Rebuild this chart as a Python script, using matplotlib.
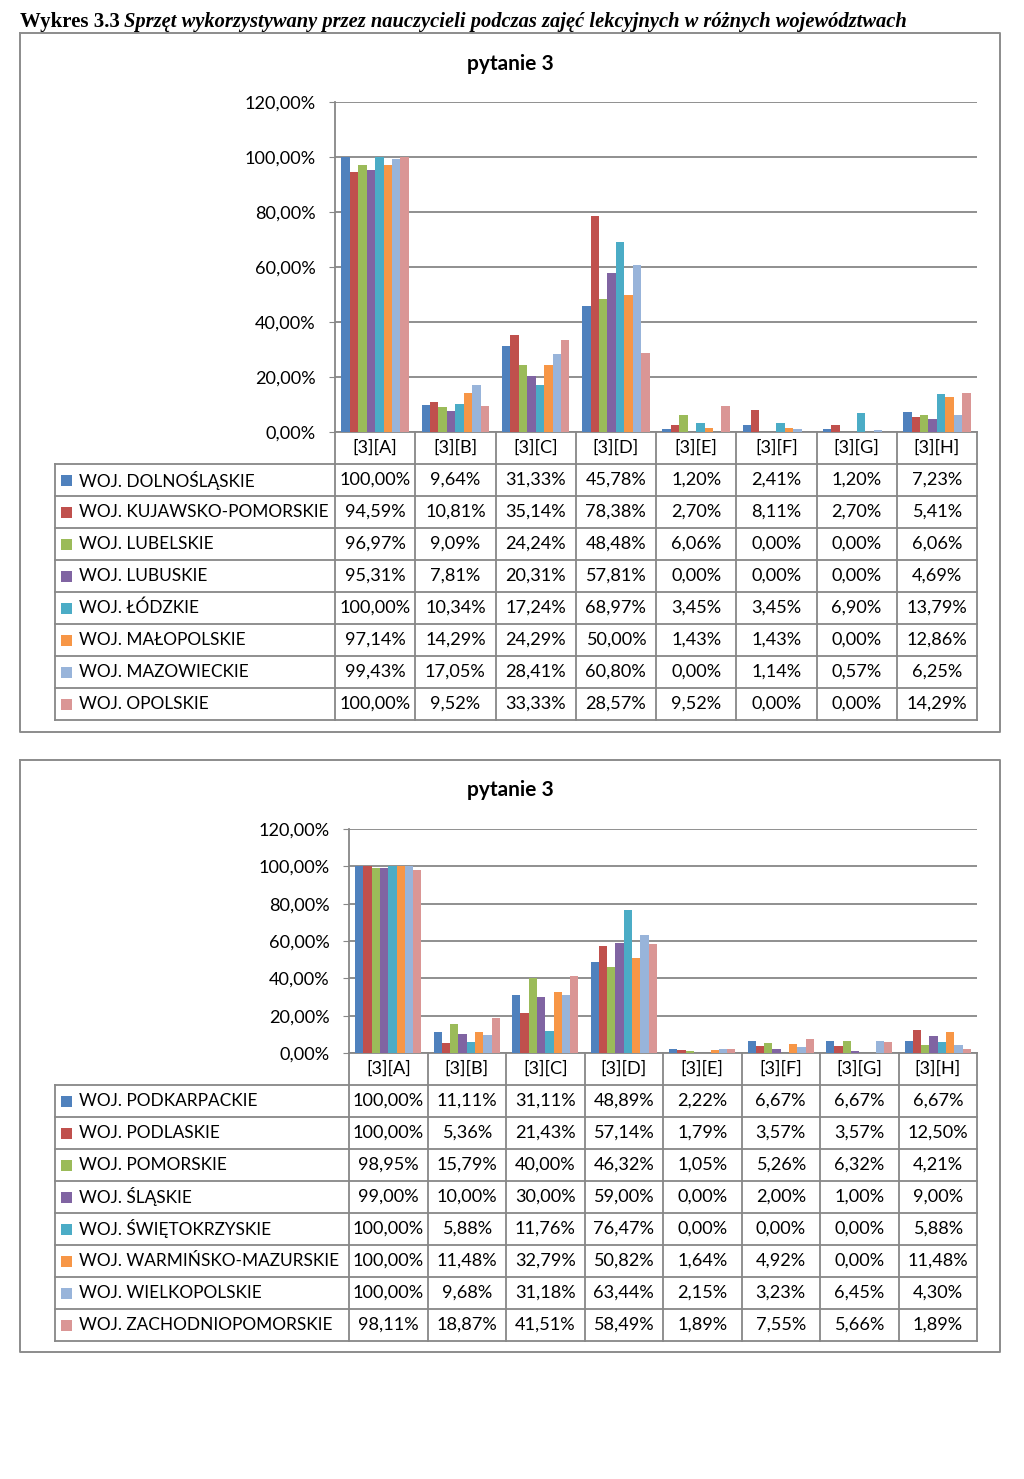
import matplotlib
matplotlib.use("Agg")
import matplotlib.pyplot as plt
import numpy as np

plt.rcParams['font.family'] = ['Lato', 'DejaVu Sans']

categories = ['[3][A]', '[3][B]', '[3][C]', '[3][D]', '[3][E]', '[3][F]', '[3][G]', '[3][H]']
colors = ['#4F81BD', '#C0504D', '#9BBB59', '#8064A2', '#4BACC6', '#F79646', '#98B4DA', '#DA9695']
y_ticks = [0, 20, 40, 60, 80, 100, 120]

top_regions = ['WOJ. DOLNOŚLĄSKIE', 'WOJ. KUJAWSKO-POMORSKIE', 'WOJ. LUBELSKIE', 'WOJ. LUBUSKIE',
               'WOJ. ŁÓDZKIE', 'WOJ. MAŁOPOLSKIE', 'WOJ. MAZOWIECKIE', 'WOJ. OPOLSKIE']
top_values = [
    [100.00, 9.64, 31.33, 45.78, 1.20, 2.41, 1.20, 7.23],
    [94.59, 10.81, 35.14, 78.38, 2.70, 8.11, 2.70, 5.41],
    [96.97, 9.09, 24.24, 48.48, 6.06, 0.00, 0.00, 6.06],
    [95.31, 7.81, 20.31, 57.81, 0.00, 0.00, 0.00, 4.69],
    [100.00, 10.34, 17.24, 68.97, 3.45, 3.45, 6.90, 13.79],
    [97.14, 14.29, 24.29, 50.00, 1.43, 1.43, 0.00, 12.86],
    [99.43, 17.05, 28.41, 60.80, 0.00, 1.14, 0.57, 6.25],
    [100.00, 9.52, 33.33, 28.57, 9.52, 0.00, 0.00, 14.29],
]

bottom_regions = ['WOJ. PODKARPACKIE', 'WOJ. PODLASKIE', 'WOJ. POMORSKIE', 'WOJ. ŚLĄSKIE',
                  'WOJ. ŚWIĘTOKRZYSKIE', 'WOJ. WARMIŃSKO-MAZURSKIE', 'WOJ. WIELKOPOLSKIE',
                  'WOJ. ZACHODNIOPOMORSKIE']
bottom_values = [
    [100.00, 11.11, 31.11, 48.89, 2.22, 6.67, 6.67, 6.67],
    [100.00, 5.36, 21.43, 57.14, 1.79, 3.57, 3.57, 12.50],
    [98.95, 15.79, 40.00, 46.32, 1.05, 5.26, 6.32, 4.21],
    [99.00, 10.00, 30.00, 59.00, 0.00, 2.00, 1.00, 9.00],
    [100.00, 5.88, 11.76, 76.47, 0.00, 0.00, 0.00, 5.88],
    [100.00, 11.48, 32.79, 50.82, 1.64, 4.92, 0.00, 11.48],
    [100.00, 9.68, 31.18, 63.44, 2.15, 3.23, 6.45, 4.30],
    [98.11, 18.87, 41.51, 58.49, 1.89, 7.55, 5.66, 1.89],
]

W, H = 1024, 1479
LINE = '#878787'
NUM_FS = 13.1
LAB_FS = 12.4


def pct(v):
    return f"{v:.2f}".replace('.', ',') + '%'


def draw_panel(fig, bg, box, plot, title_y, regions, values):
    """box/plot are (x0, y0, x1, y1) in pixels from the top left"""
    bx0, by0, bx1, by1 = box
    bg.plot([bx0, bx1, bx1, bx0, bx0], [by0, by0, by1, by1, by0], color='#8c8c8c', lw=1.4)
    px0, py0, px1, py1 = plot
    bg.text(510, title_y, 'pytanie 3', ha='center', va='center',
            fontsize=15, fontweight='bold')

    ax = fig.add_axes([px0 / W, 1 - py1 / H, (px1 - px0) / W, (py1 - py0) / H])
    n = len(regions)
    x = np.arange(len(categories))
    bw = 1 / (n + 1.5)
    for i, (name, row) in enumerate(zip(regions, values)):
        ax.bar(x - n * bw / 2 + (i + 0.5) * bw, row, width=bw, color=colors[i], lw=0)
    ax.set_xlim(-0.5, len(categories) - 0.5)
    ax.set_ylim(0, 120)
    ax.set_yticks(y_ticks)
    ax.set_yticklabels([pct(t) for t in y_ticks], fontsize=NUM_FS)
    ax.set_xticks([])
    ax.grid(axis='y', color=LINE, lw=1.3)
    ax.set_axisbelow(True)
    for s in ['top', 'right', 'bottom']:
        ax.spines[s].set_visible(False)
    ax.spines['left'].set_color(LINE)
    ax.spines['left'].set_linewidth(1.3)
    ax.tick_params(axis='y', length=4, color=LINE, pad=10)
    ax.set_facecolor('none')

    # table under the plot
    rh = 32
    lx = 55
    cw = (px1 - px0) / len(categories)
    ty1 = py1 + rh * (n + 1)
    bg.plot([px0, px1], [py1, py1], color=LINE, lw=1.3)
    for k in range(len(categories) + 1):
        bg.plot([px0 + k * cw] * 2, [py1, ty1], color=LINE, lw=1.3)
    bg.plot([lx, lx], [py1 + rh, ty1], color=LINE, lw=1.3)
    for r in range(n + 1):
        yy = py1 + rh * (r + 1)
        bg.plot([lx, px1], [yy, yy], color=LINE, lw=1.3)
    for k, c in enumerate(categories):
        bg.text(px0 + (k + 0.5) * cw, py1 + rh / 2, c, ha='center', va='center', fontsize=NUM_FS)
    for r, (name, row) in enumerate(zip(regions, values)):
        yc = py1 + rh * (r + 1.5)
        bg.add_patch(plt.Rectangle((61, yc - 5.5), 11, 11, color=colors[r], lw=0))
        bg.text(79, yc, name, ha='left', va='center', fontsize=LAB_FS)
        for k, v in enumerate(row):
            bg.text(px0 + (k + 0.5) * cw, yc, pct(v), ha='center', va='center', fontsize=NUM_FS)


fig = plt.figure(figsize=(W / 100, H / 100), dpi=100)
bg = fig.add_axes([0, 0, 1, 1])
bg.set_xlim(0, W)
bg.set_ylim(H, 0)
bg.axis('off')

bg.text(20, 22, 'Wykres 3.3', family='Liberation Serif', fontweight='bold', fontsize=15,
        ha='left', va='center')
bg.text(124, 22, 'Sprzęt wykorzystywany przez nauczycieli podczas zajęć lekcyjnych w różnych województwach',
        family='Liberation Serif', fontweight='bold', style='italic', fontsize=14.8,
        ha='left', va='center')

draw_panel(fig, bg, (20, 33, 1000, 732), (335, 102, 977, 432), 64, top_regions, top_values)
draw_panel(fig, bg, (20, 760, 1000, 1352), (349, 829, 977, 1053), 790, bottom_regions, bottom_values)

fig.savefig('out.png', dpi=100)
